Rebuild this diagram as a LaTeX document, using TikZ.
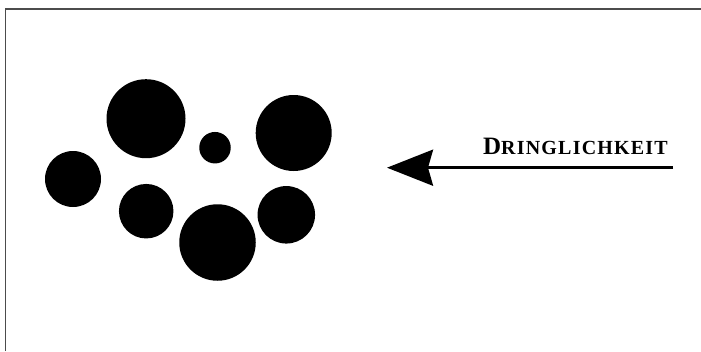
\documentclass[tikz,border=0pt]{standalone}
\usepackage{fontspec}
\setmainfont{Liberation Serif}
\usetikzlibrary{arrows.meta}

\tikzset{dot/.style={circle,fill=black,inner sep=0pt,minimum size=#1}}

\begin{document}
\begin{tikzpicture}[x=1pt,y=1pt,yscale=-1,xscale=1]
\useasboundingbox (0,0) rectangle (701,351);

%Straight Lines (frame)
\draw [color=black!70, line width=1.8pt] (5.5,351) -- (5.5,9) -- (701,9) ;

%Circles
\node [dot=79pt] (big top) at (146,118.7) {};
\node [dot=31.5pt] (small) at (215,147.7) {};
\node [dot=76pt] (big right) at (293.7,133) {};
\node [dot=56pt] (left) at (73,179) {};
\node [dot=54.5pt] (mid low) at (146.2,211.2) {};
\node [dot=76.5pt] (big bottom) at (217.5,242.5) {};
\node [dot=57.5pt] (right low) at (286.3,214.8) {};

%Arrow
\coordinate (arrow start) at (673,167.7);
\coordinate (arrow end) at (387,167.7);
\draw [line width=3pt, -{Stealth[length=46pt,width=36pt,inset=5pt]}] (arrow start) -- (arrow end) ;

% Text Node
\node [anchor=base east, inner sep=0pt, font=\bfseries\fontsize{25}{25}\selectfont\addfontfeature{LetterSpace=6}] (urgency) at (668,154.3) {D\fontsize{20}{20}\selectfont RINGLICHKEIT};

\end{tikzpicture}
\end{document}
